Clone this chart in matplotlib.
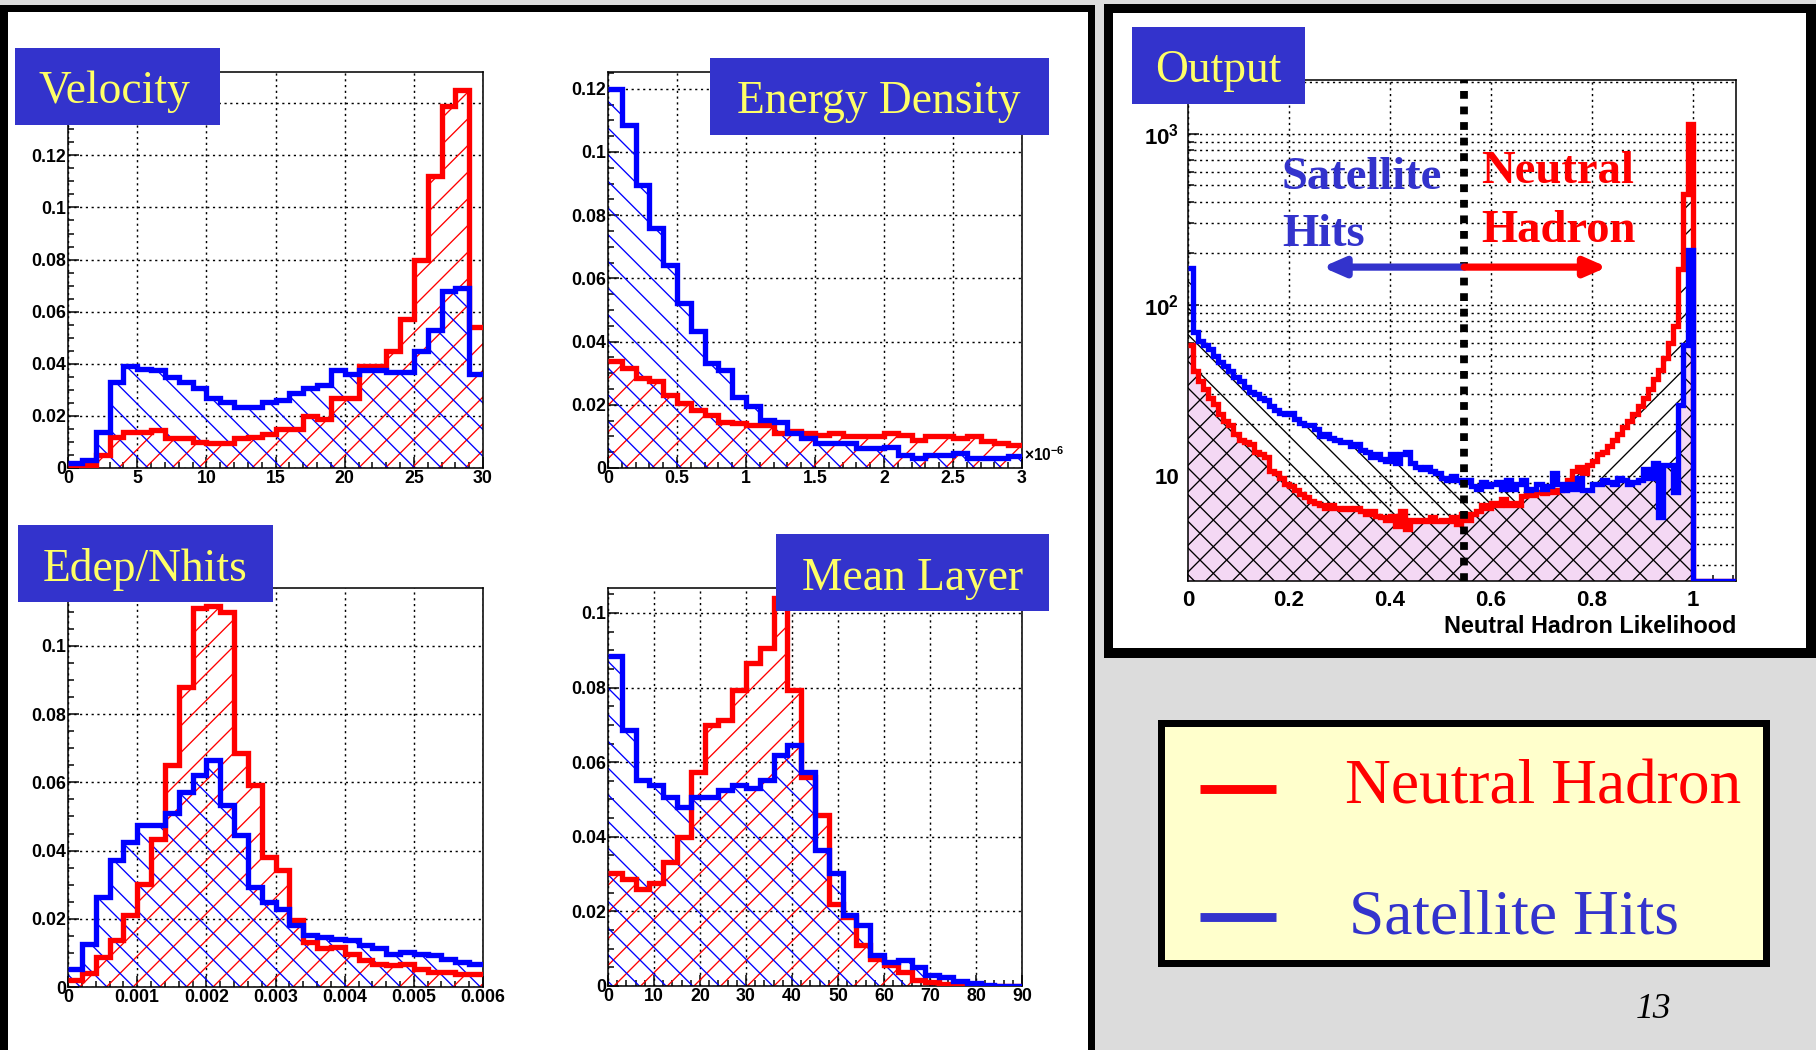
import matplotlib
matplotlib.use('Agg')
import matplotlib.pyplot as plt
import numpy as np
from matplotlib.patches import Rectangle, FancyArrowPatch
from matplotlib.lines import Line2D
from matplotlib.ticker import MultipleLocator, FuncFormatter, LogLocator, NullFormatter

################################################################################################
# data (bin contents, normalised histograms)

series = ['Neutral Hadron', 'Satellite Hits']
panel_titles = ['Velocity', 'Energy Density', 'Edep/Nhits', 'Mean Layer', 'Output']
output_xlabel = 'Neutral Hadron Likelihood'
slide_number = '13'

velocity_edges = np.linspace(0, 30, 31)
velocity_nh = [0.001, 0.001, 0.005, 0.012, 0.014, 0.014, 0.0145, 0.0115, 0.0115, 0.010,
               0.0095, 0.0095, 0.0115, 0.012, 0.013, 0.015, 0.015, 0.020, 0.019, 0.027,
               0.027, 0.039, 0.039, 0.045, 0.057, 0.080, 0.112, 0.139, 0.145, 0.054]
velocity_sat = [0.002, 0.003, 0.0137, 0.033, 0.039, 0.038, 0.0377, 0.035, 0.033, 0.0307,
                0.027, 0.0255, 0.0236, 0.0236, 0.0255, 0.026, 0.0287, 0.0307, 0.032, 0.0377,
                0.036, 0.0377, 0.0377, 0.037, 0.037, 0.045, 0.053, 0.068, 0.069, 0.036]

energy_edges = np.linspace(0, 3e-6, 31)
energy_nh = [0.0337, 0.0316, 0.0284, 0.0274, 0.0232, 0.0205, 0.0184, 0.0168, 0.0147, 0.0142,
             0.0137, 0.0137, 0.011, 0.0116, 0.011, 0.0105, 0.011, 0.010, 0.010, 0.010,
             0.011, 0.0105, 0.0089, 0.010, 0.010, 0.0095, 0.010, 0.0084, 0.0079, 0.0074]
energy_sat = [0.120, 0.1084, 0.0895, 0.0758, 0.0642, 0.0521, 0.0432, 0.0332, 0.031, 0.0226,
              0.0195, 0.0153, 0.0147, 0.011, 0.0095, 0.0079, 0.0079, 0.0079, 0.0063, 0.0063,
              0.0068, 0.0042, 0.0032, 0.0042, 0.0042, 0.0047, 0.0032, 0.0032, 0.0032, 0.0037]

edep_edges = np.linspace(0, 0.006, 31)
edep_nh = [0.002, 0.004, 0.0088, 0.0139, 0.021, 0.0303, 0.0435, 0.065, 0.088, 0.111,
           0.1117, 0.110, 0.0685, 0.0592, 0.0382, 0.0342, 0.0196, 0.0132, 0.0113, 0.0117,
           0.0098, 0.0078, 0.0068, 0.0064, 0.0068, 0.0054, 0.0044, 0.0044, 0.0039, 0.0037]
edep_sat = [0.0054, 0.0127, 0.0264, 0.0372, 0.0426, 0.0475, 0.0475, 0.0509, 0.0572, 0.0621,
            0.0665, 0.0533, 0.0445, 0.0294, 0.025, 0.023, 0.0181, 0.0152, 0.0147, 0.0142,
            0.0137, 0.0122, 0.0113, 0.0098, 0.0103, 0.0098, 0.0093, 0.0083, 0.0073, 0.0068]

layer_edges = np.linspace(0, 90, 31)
layer_nh = [0.0302, 0.0288, 0.0261, 0.0275, 0.0333, 0.040, 0.0575, 0.070, 0.0714, 0.0794,
            0.0866, 0.0906, 0.104, 0.0794, 0.0561, 0.0458, 0.0221, 0.0185, 0.0109, 0.0073,
            0.0056, 0.0038, 0.0015, 0.0011, 0.0006, 0.0004, 0.0002, 0.0001, 0.0, 0.0]
layer_sat = [0.0884, 0.0687, 0.0552, 0.0539, 0.0508, 0.0481, 0.0508, 0.0508, 0.0525, 0.0539,
             0.053, 0.0552, 0.062, 0.0646, 0.0575, 0.0364, 0.0302, 0.019, 0.0163, 0.0082,
             0.0064, 0.0069, 0.0051, 0.0029, 0.0024, 0.0013, 0.0008, 0.0002, 0.0001, 0.0001]

# likelihood output, 0.01 wide bins from 0 to 1.1 (bins above 1 are empty)
output_edges = np.linspace(0, 1.1, 111)
output_nh = [58, 41, 36, 32, 28.6, 26.2, 22.8, 20.9, 19.8, 17.6,
             16.2, 15.7, 15.3, 13.7, 13.3, 12.9, 10.6, 10.3, 9.7, 8.9,
             8.7, 8.2, 7.8, 7.5, 7.1, 6.9, 6.7, 6.5, 6.7, 6.5,
             6.4, 6.5, 6.4, 6.5, 6.2, 6.0, 6.2, 5.8, 5.7, 5.5,
             5.8, 5.1, 6.2, 4.9, 5.5, 5.4, 5.5, 5.4, 5.7, 5.4,
             5.5, 5.4, 5.7, 5.2, 6.0, 5.5, 6.0, 6.2, 6.7, 6.5,
             6.9, 6.7, 7.3, 6.7, 6.9, 6.7, 7.6, 7.8, 7.7, 8.0,
             7.9, 8.1, 8.0, 8.3, 8.6, 9.4, 10.6, 11.2, 10.3, 11.5,
             12.2, 13.3, 13.7, 14.9, 16.2, 17.6, 19.2, 20.9, 22.8, 25.5,
             28.6, 32.0, 36.9, 41.3, 48.9, 59.7, 75, 161, 445, 1140] + [0] * 10
output_sat = [165, 69, 61, 58, 55, 50, 46, 44, 41, 38,
              36, 33, 31, 30, 28.6, 27.7, 25.5, 24.1, 23.4, 22.8,
              23.4, 21.5, 20.3, 19.8, 19.8, 18.7, 17.1, 17.6, 16.7, 16.2,
              15.7, 15.7, 14.9, 15.3, 14.1, 13.7, 12.9, 13.3, 12.6, 12.2,
              13.3, 11.9, 13.3, 13.7, 11.9, 11.2, 10.9, 11.2, 10.6, 10.3,
              9.7, 9.4, 10.0, 9.4, 9.2, 9.4, 8.7, 8.4, 9.2, 8.7,
              8.9, 9.2, 8.4, 9.4, 8.4, 8.9, 9.4, 8.2, 8.4, 8.9,
              8.4, 8.7, 10.3, 8.9, 8.2, 8.9, 8.4, 9.7, 8.2, 8.2,
              8.9, 8.9, 9.4, 9.2, 8.9, 9.7, 9.4, 8.9, 9.2, 9.4,
              10.9, 9.7, 11.9, 5.7, 11.5, 11.5, 8.0, 26, 58, 208] + [0] * 10
likelihood_cut = 0.547

################################################################################################

W, H, DPI = 1816, 1050, 80
RED = '#ff0000'
BLUE = '#0000ff'
LABEL_BLUE = '#3333cc'
TITLE_YELLOW = '#ffff66'

plt.rcParams['font.family'] = ['Liberation Sans', 'DejaVu Sans']
plt.rcParams['font.weight'] = 'bold'
plt.rcParams['mathtext.fontset'] = 'custom'
plt.rcParams['mathtext.rm'] = 'Liberation Sans:bold'
plt.rcParams['mathtext.bf'] = 'Liberation Sans:bold'
plt.rcParams['hatch.linewidth'] = 1.2


def fx(x):
    return x / W


def fy(y):
    return 1 - y / H


def add_axes_px(fig, x0, y0, x1, y1):
    return fig.add_axes([x0 / W, 1 - y1 / H, (x1 - x0) / W, (y1 - y0) / H])


def rect_px(fig, x0, y0, x1, y1, color, z):
    fig.add_artist(Rectangle((x0 / W, 1 - y1 / H), (x1 - x0) / W, (y1 - y0) / H,
                             transform=fig.transFigure, facecolor=color,
                             edgecolor='none', zorder=z))


def title_box(fig, text, box, cx, baseline):
    rect_px(fig, *box, LABEL_BLUE, 5)
    fig.text(fx(cx), fy(baseline), text, color=TITLE_YELLOW, fontsize=41,
             family='Liberation Serif', weight='normal', ha='center', va='baseline', zorder=6)


def style_axes(ax, mx, nx, my, ny, fmt, labelsize=16, pad=2, ytop=None):
    ax.xaxis.set_major_locator(MultipleLocator(mx))
    ax.xaxis.set_minor_locator(MultipleLocator(nx))
    if my is not None:
        ax.yaxis.set_major_locator(MultipleLocator(my))
        ax.yaxis.set_minor_locator(MultipleLocator(ny))
        # labels that sit under the title box are left out
        ax.yaxis.set_major_formatter(FuncFormatter(
            lambda v, p: '' if (ytop is not None and v > ytop) else '%g' % round(v, 4)))
    ax.xaxis.set_major_formatter(FuncFormatter(fmt))
    ax.tick_params(which='both', direction='in', top=False, right=False,
                   width=1.35, colors='black', labelsize=labelsize, pad=pad)
    ax.tick_params(which='major', length=10)
    ax.tick_params(which='minor', length=5.4)
    ax.grid(True, which='major', color='black', linestyle=(0, (1.5, 2.5)), linewidth=1.3)
    ax.set_axisbelow(True)
    for s in ax.spines.values():
        s.set_linewidth(1.4)


def draw_pair(ax, edges, nh, sat):
    ax.stairs(nh, edges, fill=True, hatch='/', facecolor='none', edgecolor=RED,
              linewidth=0, zorder=1)
    ax.stairs(sat, edges, fill=True, hatch='\\', facecolor='none', edgecolor=BLUE,
              linewidth=0, zorder=1.1)
    ax.stairs(nh, edges, baseline=None, color=RED, linewidth=4.8, zorder=3)
    ax.stairs(sat, edges, baseline=None, color=BLUE, linewidth=4.8, zorder=3.1)


fig = plt.figure(figsize=(W / DPI, H / DPI), dpi=DPI)
fig.patch.set_facecolor('#dcdcdc')

# slide panels
rect_px(fig, -10, 5, 1095, 1070, 'black', -5)
rect_px(fig, 8, 12, 1088, 1070, 'white', -4)
rect_px(fig, 1104, 4, 1826, 658, 'black', -5)
rect_px(fig, 1113, 13, 1806, 648, 'white', -4)

# four input variables
ax1 = add_axes_px(fig, 68, 72, 483, 468)
draw_pair(ax1, velocity_edges, velocity_nh, velocity_sat)
ax1.set_xlim(0, 30)
ax1.set_ylim(0, 0.152)
style_axes(ax1, 5, 1, 0.02, 0.005, lambda v, p: '%g' % v, ytop=0.13)

ax2 = add_axes_px(fig, 608, 72, 1022, 468)
draw_pair(ax2, energy_edges, energy_nh, energy_sat)
ax2.set_xlim(0, 3e-6)
ax2.set_ylim(0, 0.1253)
style_axes(ax2, 0.5e-6, 0.1e-6, 0.02, 0.005, lambda v, p: '%g' % round(v * 1e6, 3))
ax2.text(1.004, 0.01, r'$\times10^{-6}$', transform=ax2.transAxes, fontsize=14,
         ha='left', va='bottom')

ax3 = add_axes_px(fig, 68, 588, 483, 987)
draw_pair(ax3, edep_edges, edep_nh, edep_sat)
ax3.set_xlim(0, 0.006)
ax3.set_ylim(0, 0.117)
style_axes(ax3, 0.001, 0.0002, 0.02, 0.005, lambda v, p: '%g' % round(v, 6))

ax4 = add_axes_px(fig, 608, 588, 1022, 986)
draw_pair(ax4, layer_edges, layer_nh, layer_sat)
ax4.set_xlim(0, 90)
ax4.set_ylim(0, 0.1067)
style_axes(ax4, 10, 2, 0.02, 0.005, lambda v, p: '%g' % v)

# likelihood output, log scale
ax5 = add_axes_px(fig, 1188, 80, 1736, 581)
ax5.set_yscale('log')
ymin, ymax = 2.42, 2064
nh_out = np.clip(np.array(output_nh, float), ymin, None)
sat_out = np.clip(np.array(output_sat, float), ymin, None)
ax5.stairs(np.minimum(nh_out, sat_out), output_edges, fill=True, facecolor='#f4d8f4',
           edgecolor='none', linewidth=0, baseline=1, zorder=0.9)
ax5.stairs(nh_out, output_edges, fill=True, hatch='/', facecolor='none', edgecolor='black',
           linewidth=0, baseline=1, zorder=1)
ax5.stairs(sat_out, output_edges, fill=True, hatch='\\', facecolor='none', edgecolor='black',
           linewidth=0, baseline=1, zorder=1.1)
ax5.stairs(nh_out, output_edges, baseline=None, color=RED, linewidth=4.8, zorder=3)
ax5.stairs(sat_out, output_edges, baseline=None, color=BLUE, linewidth=4.8, zorder=3.1)
ax5.set_xlim(0, 1.085)
ax5.set_ylim(ymin, ymax)
style_axes(ax5, 0.2, 0.04, None, None, lambda v, p: '%g' % round(v, 3), labelsize=20, pad=8)
ax5.yaxis.set_major_locator(LogLocator(base=10, numticks=10))
ax5.yaxis.set_minor_locator(LogLocator(base=10, subs=np.arange(2, 10), numticks=20))
ax5.yaxis.set_major_formatter(FuncFormatter(
    lambda v, p: '10' if abs(v - 10) < 1e-6 else r'$10^{%d}$' % round(np.log10(v))))
ax5.yaxis.set_minor_formatter(NullFormatter())
ax5.grid(True, which='minor', axis='y', color='black', linestyle=(0, (1.5, 2.5)), linewidth=1.3)
ax5.set_xlabel(output_xlabel, fontsize=21, fontweight='bold', loc='right', labelpad=4)

ax5.axvline(likelihood_cut, color='black', linewidth=7, linestyle=(0, (1, 1)), zorder=5)
arrow_y = 166
for tip, col in [(0.266, LABEL_BLUE), (0.83, RED)]:
    ax5.add_patch(FancyArrowPatch((likelihood_cut, arrow_y), (tip, arrow_y),
                                  arrowstyle='-|>,head_length=16,head_width=7',
                                  mutation_scale=1, linewidth=6.5, color=col,
                                  shrinkA=0, shrinkB=0, zorder=6))

sat_words = series[1].split()
nh_words = series[0].split()
for word, base in zip(sat_words, [189, 246]):
    fig.text(fx(1282), fy(base), word, color=LABEL_BLUE, fontsize=42, family='Liberation Serif',
             weight='bold', ha='left', va='baseline', zorder=7)
for word, base in zip(nh_words, [183, 242]):
    fig.text(fx(1481), fy(base), word, color=RED, fontsize=42, family='Liberation Serif',
             weight='bold', ha='left', va='baseline', zorder=7)

# blue title boxes
title_box(fig, panel_titles[0], (15, 48, 220, 125), 114, 103)
title_box(fig, panel_titles[1], (710, 58, 1049, 135), 879, 113)
title_box(fig, panel_titles[2], (18, 525, 273, 602), 145, 581)
title_box(fig, panel_titles[3], (776, 534, 1049, 611), 913, 590)
title_box(fig, panel_titles[4], (1132, 27, 1305, 104), 1218, 82)

# legend box
rect_px(fig, 1158, 720, 1770, 967, 'black', 2)
rect_px(fig, 1165, 727, 1763, 960, '#ffffcc', 2.1)
for name, col, ly, tx, base in [(series[0], RED, 788.5, 1345, 803),
                                (series[1], LABEL_BLUE, 916.5, 1349, 933)]:
    fig.add_artist(Line2D([fx(1200), fx(1276)], [fy(ly), fy(ly)], transform=fig.transFigure,
                          color=col, linewidth=8, solid_capstyle='butt', zorder=3))
    fig.text(fx(tx), fy(base), name, color=col, fontsize=57, family='Liberation Serif',
             weight='normal', ha='left', va='baseline', zorder=3)

fig.text(fx(1653), fy(1010), slide_number, fontsize=32, family='Liberation Serif',
         weight='normal', style='italic', ha='center', va='center')

fig.savefig('out.png', dpi=DPI)
plt.close(fig)
